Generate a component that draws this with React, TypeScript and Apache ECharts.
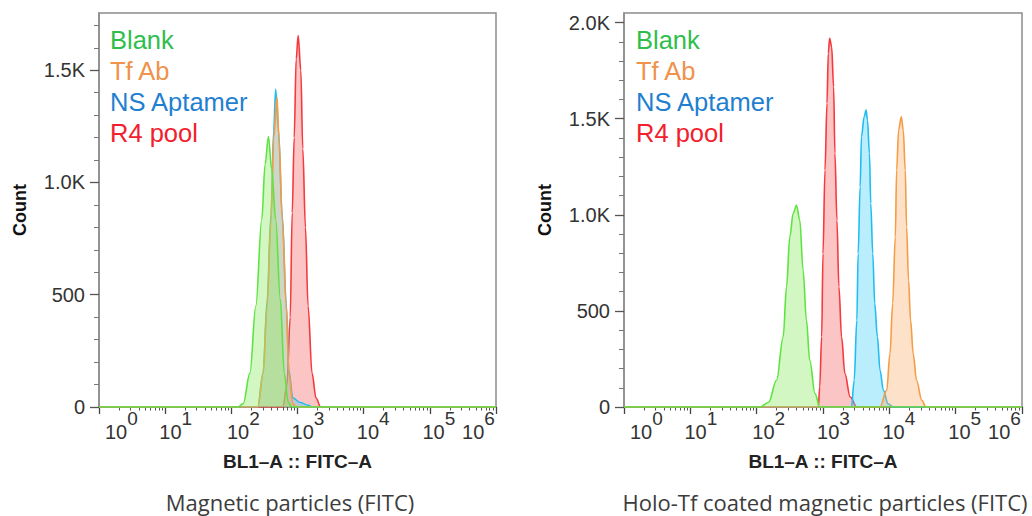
import React, { useEffect, useRef } from 'react';
import * as echarts from 'echarts';

// ---------- data ----------
const seriesNames = ['Blank', 'Tf Ab', 'NS Aptamer', 'R4 pool'];
const panelCaptions = ['Magnetic particles (FITC)', 'Holo-Tf coated magnetic particles (FITC)'];
const xAxisTitle = 'BL1–A :: FITC–A';
const yAxisTitle = 'Count';

// x in decades (log10 of FITC-A), y = count
const xMajorValues = [0, 1, 2, 3, 4, 5, 6];
const xTickExponents = ['0', '1', '2', '3', '4', '5', '6'];

const yMajorLeft = [0, 500, 1000, 1500];
const yLabelsLeft = ['0', '500', '1.0K', '1.5K'];
const yMajorRight = [0, 500, 1000, 1500, 2000];
const yLabelsRight = ['0', '500', '1.0K', '1.5K', '2.0K'];
const yMaxLeft = 1755;
const yMaxRight = 2050;

// Left panel: Magnetic particles
const leftBlank = [[0, 0], [2.10, 0], [2.18, 15], [2.28, 150], [2.37, 450], [2.46, 835], [2.51, 1080], [2.56, 1205], [2.61, 1060], [2.67, 835], [2.74, 480], [2.80, 150], [2.86, 20], [2.92, 0], [6, 0]];
const leftTfAb = [[0, 0], [2.40, 0], [2.48, 150], [2.54, 450], [2.60, 835], [2.64, 1200], [2.69, 1380], [2.72, 1200], [2.77, 835], [2.83, 450], [2.87, 150], [2.93, 15], [2.98, 0], [6, 0]];
const leftNSApt = [[0, 0], [2.40, 0], [2.48, 150], [2.54, 470], [2.60, 860], [2.64, 1230], [2.67, 1415], [2.71, 1240], [2.77, 850], [2.83, 460], [2.87, 160], [2.93, 40], [3.04, 20], [3.16, 8], [3.23, 0], [6, 0]];
const leftR4 = [[0, 0], [2.78, 0], [2.84, 100], [2.89, 400], [2.92, 865], [2.95, 1200], [2.98, 1550], [3.01, 1655], [3.05, 1500], [3.08, 1150], [3.12, 800], [3.16, 450], [3.22, 150], [3.28, 40], [3.35, 0], [6, 0]];

// Right panel: Holo-Tf coated magnetic particles
const rightBlank = [[0, 0], [2.05, 0], [2.18, 25], [2.30, 139], [2.40, 365], [2.45, 625], [2.50, 885], [2.55, 1007], [2.60, 1050], [2.65, 972], [2.70, 712], [2.75, 452], [2.80, 243], [2.88, 70], [2.95, 0], [6, 0]];
const rightTfAb = [[0, 0], [3.86, 0], [3.96, 87], [4.01, 278], [4.05, 538], [4.09, 885], [4.11, 1233], [4.14, 1441], [4.18, 1510], [4.21, 1441], [4.24, 1233], [4.26, 937], [4.29, 660], [4.32, 452], [4.36, 278], [4.41, 139], [4.49, 35], [4.55, 0], [6, 0]];
const rightNSApt = [[0, 0], [3.43, 0], [3.47, 139], [3.51, 452], [3.53, 799], [3.56, 1146], [3.58, 1406], [3.62, 1510], [3.65, 1545], [3.67, 1493], [3.70, 1320], [3.72, 1059], [3.75, 799], [3.78, 538], [3.82, 365], [3.86, 191], [3.91, 87], [3.98, 17], [4.06, 0], [6, 0]];
const rightR4 = [[0, 0], [2.93, 0], [2.95, 104], [2.98, 365], [3.00, 799], [3.03, 1233], [3.06, 1580], [3.08, 1840], [3.10, 1919], [3.13, 1875], [3.16, 1667], [3.18, 1320], [3.21, 972], [3.24, 625], [3.28, 365], [3.33, 174], [3.41, 52], [3.51, 0], [6, 0]];

// ---------- styles ----------
const lineColors = { blank: '#5ee442', tf: '#f59c45', ns: '#22bdf0', r4: '#f53a3e' };
const fillColors = {
  blank: 'rgba(140,235,95,0.55)',
  tf: 'rgba(250,170,100,0.5)',
  ns: 'rgba(60,205,245,0.5)',
  r4: 'rgba(245,90,90,0.5)',
};
const legendColors = ['#2fbe4c', '#ef924c', '#1f7fd0', '#f2202c'];
const FONT = '"Liberation Sans", Arial, Helvetica, sans-serif';
const FRAME = '#8c8c8c';
const LABEL = '#333333';

// label offsets: [leading spacer, trailing spacer]
const xLeadSpacers = [6, 21, 24, 21, 19, 18, 0];
const xTrailSpacers = [0, 0, 0, 0, 0, 0, 35];

function xMinorTicks(): number[] {
  const out: number[] = [];
  for (let d = 0; d < 6; d++) {
    for (let k = 2; k <= 9; k++) out.push(d + Math.log10(k));
  }
  return out;
}
function yMinorTicks(max: number): number[] {
  const out: number[] = [];
  for (let v = 100; v < max; v += 100) if (v % 500 !== 0) out.push(v);
  return out;
}

function xRich() {
  const rich: any = {
    b: { fontSize: 20, fontFamily: FONT, color: LABEL, lineHeight: 20, padding: [14, 0, 0, 0] },
    s: { fontSize: 19, fontFamily: FONT, color: LABEL, lineHeight: 20, padding: [0, 0, 14, 0] },
  };
  xLeadSpacers.forEach((w, i) => {
    rich['a' + i] = { width: w, fontSize: 10, lineHeight: 20 };
  });
  xTrailSpacers.forEach((w, i) => {
    rich['z' + i] = { width: w, fontSize: 10, lineHeight: 20 };
  });
  return rich;
}

function xLabelText(v: number) {
  const i = Math.round(v);
  const lead = xLeadSpacers[i] > 0 ? `{a${i}| }` : '';
  const trail = xTrailSpacers[i] > 0 ? `{z${i}| }` : '';
  return `${lead}{b|10}{s|${xTickExponents[i]}}${trail}`;
}

function majorX(gridIndex: number) {
  return {
    type: 'value',
    gridIndex,
    position: 'bottom',
    min: 0,
    max: 6,
    interval: 1,
    name: xAxisTitle,
    nameLocation: 'middle',
    nameGap: 45,
    nameTextStyle: { fontFamily: FONT, fontSize: 19, fontWeight: 'bold', color: '#222' },
    axisLine: { show: true, lineStyle: { color: FRAME, width: 1.5 } },
    axisTick: { show: true, length: 7, customValues: xMajorValues, lineStyle: { color: '#444', width: 1.3 } },
    axisLabel: {
      show: true,
      customValues: xMajorValues.slice(1),
      showMinLabel: true,
      showMaxLabel: true,
      hideOverlap: false,
      align: 'center',
      margin: 8,
      formatter: xLabelText,
      rich: xRich(),
    },
    splitLine: { show: false },
  };
}
// carries the minor (2..9) log ticks and the left-aligned 10^0 label
function minorX(gridIndex: number) {
  return {
    type: 'value',
    gridIndex,
    position: 'bottom',
    min: 0,
    max: 6,
    interval: 1,
    axisLine: { show: false },
    axisTick: { show: true, length: 3.5, customValues: xMinorTicks(), lineStyle: { color: '#555', width: 1 } },
    axisLabel: {
      show: true,
      customValues: xMajorValues.slice(0, 1),
      showMinLabel: true,
      showMaxLabel: true,
      align: 'left',
      margin: 8,
      formatter: xLabelText,
      rich: xRich(),
    },
    splitLine: { show: false },
  };
}
function majorY(gridIndex: number, max: number, values: number[], labels: string[]) {
  return {
    type: 'value',
    gridIndex,
    position: 'left',
    min: 0,
    max,
    interval: 500,
    name: yAxisTitle,
    nameLocation: 'middle',
    nameRotate: 90,
    nameGap: 70,
    nameTextStyle: { fontFamily: FONT, fontSize: 18, fontWeight: 'bold', color: '#111' },
    axisLine: { show: true, lineStyle: { color: FRAME, width: 1.5 } },
    axisTick: { show: true, length: 9, customValues: values, lineStyle: { color: '#555', width: 1.3 } },
    axisLabel: {
      show: true,
      customValues: values,
      showMinLabel: true,
      showMaxLabel: true,
      margin: 14,
      fontFamily: FONT,
      fontSize: 20,
      color: LABEL,
      formatter: (v: number) => {
        const i = values.indexOf(Math.round(v));
        return i >= 0 ? labels[i] : '';
      },
    },
    splitLine: { show: false },
  };
}
function minorY(gridIndex: number, max: number) {
  return {
    type: 'value',
    gridIndex,
    position: 'left',
    min: 0,
    max,
    interval: 500,
    axisLine: { show: false },
    axisTick: { show: true, length: 5, customValues: yMinorTicks(max), lineStyle: { color: '#777', width: 1 } },
    axisLabel: { show: false },
    splitLine: { show: false },
  };
}

function histSeries(name: string, data: number[][], key: keyof typeof lineColors, xIdx: number, yIdx: number, z: number) {
  return {
    type: 'line',
    name,
    xAxisIndex: xIdx,
    yAxisIndex: yIdx,
    data,
    smooth: 0.35,
    smoothMonotone: 'x',
    showSymbol: false,
    symbol: 'none',
    z,
    lineStyle: { color: lineColors[key], width: 1.6 },
    itemStyle: { color: lineColors[key] },
    areaStyle: { color: fillColors[key] },
  };
}

function legendTexts(left: number) {
  const ys = [40, 71, 102, 133];
  return seriesNames.map((n, i) => ({
    type: 'text',
    x: left,
    y: ys[i],
    z: 100,
    style: {
      text: n,
      fill: legendColors[i],
      font: `25.5px ${FONT}`,
      align: 'left',
      verticalAlign: 'middle',
      textAlign: 'left',
      textVerticalAlign: 'middle',
    },
  }));
}

function captionText(cx: number, text: string) {
  return {
    type: 'text',
    x: cx,
    y: 502,
    style: {
      text,
      fill: '#3c3c3c',
      font: '22px "Open Sans", Lato, sans-serif',
      lineHeight: 22,
      align: 'center',
      verticalAlign: 'middle',
      textAlign: 'center',
      textVerticalAlign: 'middle',
    },
  };
}

export default function App() {
  const ref = useRef<HTMLDivElement>(null);
  useEffect(() => {
    if (!ref.current) return;
    const chart = echarts.init(ref.current, undefined, { renderer: 'svg' });
    const option: any = {
      animation: false,
      backgroundColor: '#ffffff',
      grid: [
        { left: 99, top: 13, width: 397, height: 394, show: true, borderColor: FRAME, borderWidth: 1.5, backgroundColor: 'transparent', outerBoundsMode: 'none', containLabel: false },
        { left: 624, top: 13, width: 398, height: 394, show: true, borderColor: FRAME, borderWidth: 1.5, backgroundColor: 'transparent', outerBoundsMode: 'none', containLabel: false },
      ],
      xAxis: [majorX(0), minorX(0), majorX(1), minorX(1)],
      yAxis: [
        majorY(0, yMaxLeft, yMajorLeft, yLabelsLeft),
        minorY(0, yMaxLeft),
        majorY(1, yMaxRight, yMajorRight, yLabelsRight),
        minorY(1, yMaxRight),
      ],
      series: [
        histSeries('R4 pool', leftR4, 'r4', 0, 0, 2),
        histSeries('NS Aptamer', leftNSApt, 'ns', 0, 0, 3),
        histSeries('Tf Ab', leftTfAb, 'tf', 0, 0, 4),
        histSeries('Blank', leftBlank, 'blank', 0, 0, 5),
        histSeries('R4 pool', rightR4, 'r4', 2, 2, 2),
        histSeries('NS Aptamer', rightNSApt, 'ns', 2, 2, 3),
        histSeries('Tf Ab', rightTfAb, 'tf', 2, 2, 4),
        histSeries('Blank', rightBlank, 'blank', 2, 2, 5),
      ],
      graphic: [
        ...legendTexts(110),
        ...legendTexts(636),
        captionText(290, panelCaptions[0]),
        captionText(825, panelCaptions[1]),
      ],
    };
    chart.setOption(option);
    return () => chart.dispose();
  }, []);
  return (
    <div
      ref={ref}
      style={{ position: 'absolute', left: 0, top: 0, width: 1032, height: 516, background: '#fff' }}
    />
  );
}
